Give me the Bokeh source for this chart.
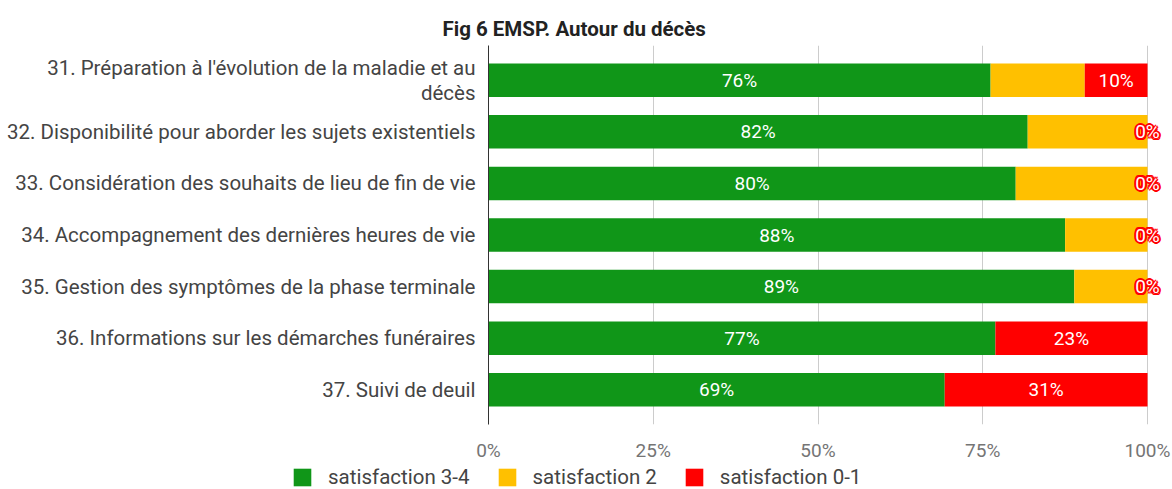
from bokeh.plotting import figure
from bokeh.layouts import column
from bokeh.models import (ColumnDataSource, Range1d, FixedTicker, NumeralTickFormatter,
                          LabelSet, Title, Legend)
from bokeh.core.properties import value
from bokeh.embed import file_html
from bokeh.resources import INLINE

title_text = "Fig 6 EMSP. Autour du décès"
categories = [
    "31. Préparation à l'évolution de la maladie et au\ndécès",
    "32. Disponibilité pour aborder les sujets existentiels",
    "33. Considération des souhaits de lieu de fin de vie",
    "34. Accompagnement des dernières heures de vie",
    "35. Gestion des symptômes de la phase terminale",
    "36. Informations sur les démarches funéraires",
    "37. Suivi de deuil",
]
series_names = ["satisfaction 3-4", "satisfaction 2", "satisfaction 0-1"]
sat_34 = [0.7619, 0.8182, 0.8000, 0.8750, 0.8889, 0.7692, 0.6923]
sat_2 = [0.1429, 0.1818, 0.2000, 0.1250, 0.1111, 0.0, 0.0]
sat_01 = [0.0952, 0.0, 0.0, 0.0, 0.0, 0.2308, 0.3077]
x_ticks = [0, 0.25, 0.5, 0.75, 1.0]

colors = ["#109618", "#ffc000", "#ff0000"]
FONT = "Roboto"

n = len(categories)
pos = [n - 1 - i for i in range(n)]

src = ColumnDataSource(dict(
    pos=pos, g=sat_34, y=sat_2, r=sat_01,
    gx=[v / 2 for v in sat_34],
    rx=[a + b + c / 2 for a, b, c in zip(sat_34, sat_2, sat_01)],
    gl=[f"{round(v * 100)}%" for v in sat_34],
    rl=[f"{round(v * 100)}%" for v in sat_01],
))

# frame spans 488..1172 px; 100% sits at 1147 px so end-of-bar labels are not clipped
p = figure(width=1172, height=464, output_backend="svg", toolbar_location=None,
           x_range=Range1d(0, 684 / 659), y_range=Range1d(-0.673, n - 1 + 0.673),
           min_border_left=488, min_border_right=0, min_border_top=45,
           min_border_bottom=37, frame_align=False)
p.outline_line_color = None
p.background_fill_color = "white"

p.add_layout(Title(text=title_text, text_font=FONT, text_font_size="20.5px",
                   text_font_style="bold", text_color="#222222", align="left",
                   offset=-46, standoff=9), "above")

p.hbar_stack(["g", "y", "r"], y="pos", height=0.65, color=colors, source=src,
             line_width=0)

label_kw = dict(y="pos", source=src, text_align="center", text_baseline="middle",
                text_font=value(FONT), text_font_size=value("19px"))
p.add_layout(LabelSet(x="gx", text="gl", text_color="white", **label_kw))
# red halo behind white red-series labels
for dx, dy in [(-2, 0), (2, 0), (0, -2), (0, 2), (-1.5, -1.5), (1.5, 1.5), (-1.5, 1.5), (1.5, -1.5)]:
    p.add_layout(LabelSet(x="rx", text="rl", text_color="#ff0000", x_offset=dx, y_offset=dy,
                          **label_kw))
p.add_layout(LabelSet(x="rx", text="rl", text_color="white", **label_kw))

# x axis
p.xaxis.ticker = FixedTicker(ticks=x_ticks)
p.xaxis.formatter = NumeralTickFormatter(format="0%")
p.xaxis.axis_line_color = None
p.xaxis.major_tick_line_color = None
p.xaxis.minor_tick_line_color = None
p.xaxis.major_label_text_font = FONT
p.xaxis.major_label_text_font_size = "19px"
p.xaxis.major_label_text_color = "#757575"
p.xaxis.major_label_standoff = 8

p.xgrid.ticker = FixedTicker(ticks=x_ticks)
p.xgrid.grid_line_color = "#cccccc"
p.ygrid.grid_line_color = None

# y axis
p.yaxis.ticker = FixedTicker(ticks=pos)
p.yaxis.major_label_overrides = {pp: c for pp, c in zip(pos, categories)}
p.yaxis.axis_line_color = "#333333"
p.yaxis.major_tick_line_color = None
p.yaxis.minor_tick_line_color = None
p.yaxis.major_label_text_font = FONT
p.yaxis.major_label_text_font_size = "20.5px"
p.yaxis.major_label_text_color = "#444444"
p.yaxis.major_label_text_line_height = 1.05
p.yaxis.major_label_standoff = 7

# legend strip below the chart: same series, bars kept outside its visible range
q = figure(width=1172, height=25, output_backend="svg", toolbar_location=None,
           x_range=Range1d(0, 1), y_range=Range1d(100, 101),
           min_border_left=0, min_border_right=0, min_border_top=0,
           min_border_bottom=0, x_axis_type=None, y_axis_type=None,
           frame_align=False)
q.outline_line_color = None
q.grid.visible = False
rs = q.hbar_stack(["g", "y", "r"], y="pos", height=0.65, color=colors, source=src,
                  line_width=0)
lg = Legend(items=[(name, [r]) for name, r in zip(series_names, rs)],
            orientation="horizontal", location=(291, 0), padding=0, margin=0,
            spacing=26, glyph_width=22, glyph_height=22, label_height=22,
            label_standoff=15, label_text_font=FONT, label_text_font_size="20.5px",
            label_text_color="#444444", border_line_color=None,
            background_fill_alpha=0)
q.add_layout(lg, "center")

open("out.html", "w").write(file_html(column(p, q, spacing=0), INLINE))
